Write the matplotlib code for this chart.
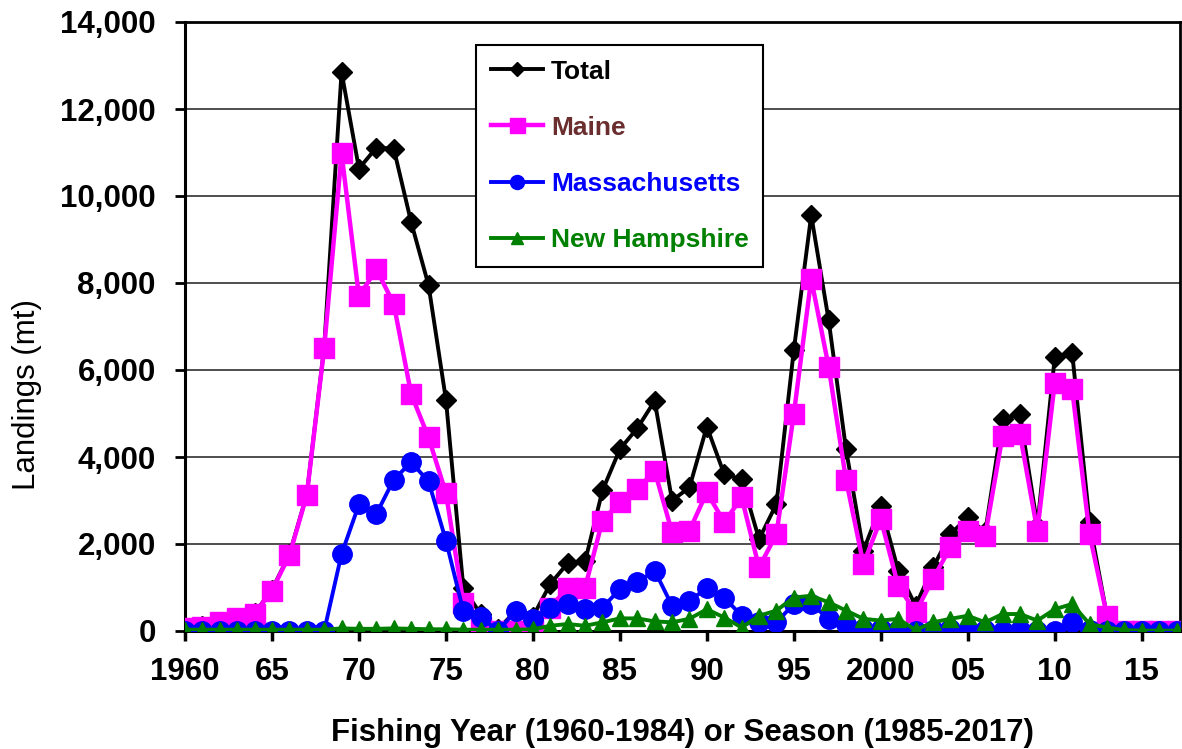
import matplotlib
matplotlib.use("Agg")
import matplotlib.pyplot as plt
from matplotlib.ticker import FuncFormatter, MultipleLocator

years = list(range(1960, 2018))

total = [90, 110, 210, 310, 410, 950, 1760, 3130, 6520, 12850,
         10630, 11110, 11090, 9400, 7950, 5320, 1000, 380, 40, 460,
         330, 1080, 1560, 1600, 3230, 4180, 4660, 5290, 3000, 3300,
         4700, 3600, 3490, 2110, 2920, 6460, 9560, 7150, 4180, 1850,
         2880, 1390, 580, 1460, 2230, 2610, 2270, 4870, 4990, 2420,
         6290, 6400, 2500, 350, 10, 0, 0, 0]

maine = [80, 100, 200, 300, 400, 930, 1740, 3120, 6500, 10980,
         7690, 8320, 7520, 5450, 4450, 3170, 650, 100, 0, 0,
         30, 540, 1000, 1000, 2540, 2960, 3260, 3680, 2270, 2310,
         3190, 2500, 3070, 1460, 2230, 4990, 8090, 6080, 3480, 1540,
         2570, 1040, 430, 1200, 1920, 2300, 2190, 4490, 4530, 2300,
         5710, 5560, 2230, 350, 0, 0, 0, 0]

massachusetts = [0, 0, 0, 0, 0, 0, 0, 0, 0, 1770,
                 2910, 2690, 3480, 3880, 3440, 2080, 460, 320, 0, 460,
                 280, 540, 620, 500, 540, 960, 1120, 1390, 580, 700,
                 980, 770, 350, 200, 200, 620, 620, 280, 160, 40,
                 50, 20, 0, 30, 50, 30, 20, 10, 20, 0,
                 10, 200, 30, 0, 0, 0, 0, 0]

new_hampshire = [30, 30, 30, 30, 30, 30, 30, 30, 30, 60,
                 50, 50, 60, 50, 40, 40, 30, 30, 30, 30,
                 40, 120, 160, 120, 200, 290, 290, 220, 200, 280,
                 500, 310, 80, 350, 470, 770, 810, 660, 470, 280,
                 240, 280, 20, 200, 280, 350, 200, 390, 390, 240,
                 500, 620, 160, 80, 20, 10, 10, 10]

xtick_vals = [1960, 1965, 1970, 1975, 1980, 1985, 1990, 1995, 2000, 2005, 2010, 2015]
xtick_labels = ["1960", "65", "70", "75", "80", "85", "90", "95", "2000", "05", "10", "15"]

plt.rcParams['font.family'] = ['Liberation Sans', 'DejaVu Sans']

W, H = 1182, 749
fig = plt.figure(figsize=(W / 100, H / 100), dpi=100)
L, R, T, B = 185, 1180, 22, 631
ax = fig.add_axes([L / W, 1 - B / H, (R - L) / W, (B - T) / H])

# Excel series order: Total drawn first (bottom), New Hampshire last (top)
ax.plot(years, total, color='black', lw=2.8, marker='D', ms=10, label='Total', zorder=3)
ax.plot(years, maine, color='#FF00FF', lw=3.2, marker='s', ms=15, label='Maine', zorder=4)
ax.plot(years, massachusetts, color='#0000FF', lw=2.8, marker='o', ms=14, label='Massachusetts', zorder=5)
ax.plot(years, new_hampshire, color='#008000', lw=2.8, marker='^', ms=12, label='New Hampshire', zorder=6)

ax.set_xlim(1960, 2017.2)
ax.set_ylim(0, 14000)
ax.yaxis.set_major_locator(MultipleLocator(2000))
ax.yaxis.set_major_formatter(FuncFormatter(lambda v, p: f"{int(v):,}"))
ax.set_xticks(xtick_vals)
ax.set_xticklabels(xtick_labels)
ax.grid(axis='y', color='#404040', lw=1.3, zorder=0)
for s in ['left', 'bottom']:
    ax.spines[s].set_linewidth(2.2)
for s in ['top', 'right']:
    ax.spines[s].set_linewidth(2.0)
    ax.spines[s].set_color('black')

ax.tick_params(axis='y', labelsize=22.5, width=2, length=7, direction='out', pad=14)
ax.tick_params(axis='x', labelsize=22.5, width=2.5, length=7, direction='out', pad=12)
for lab in ax.get_xticklabels() + ax.get_yticklabels():
    lab.set_fontweight('bold')

ax.set_xlabel("Fishing Year (1960-1984) or Season (1985-2017)", fontsize=22.5, fontweight='bold', labelpad=22)
ax.set_ylabel("Landings (mt)", fontsize=22.5)
ax.yaxis.set_label_coords((42 - L) / (R - L), (B - 395) / (B - T))

leg = ax.legend(loc='upper left', bbox_to_anchor=((476 - L) / (R - L), (B - 45) / (B - T)),
                borderaxespad=0, frameon=True, fancybox=False, edgecolor='black', framealpha=1,
                prop={'weight': 'bold', 'size': 19}, handlelength=2.0, handletextpad=0.3,
                labelspacing=1.22, borderpad=0.55, markerscale=0.72)
leg.get_frame().set_linewidth(1.5)
text_colors = ['black', '#6B2E2E', '#0000FF', '#008000']
for t, c in zip(leg.get_texts(), text_colors):
    t.set_color(c)

fig.savefig("out.png", dpi=100)
